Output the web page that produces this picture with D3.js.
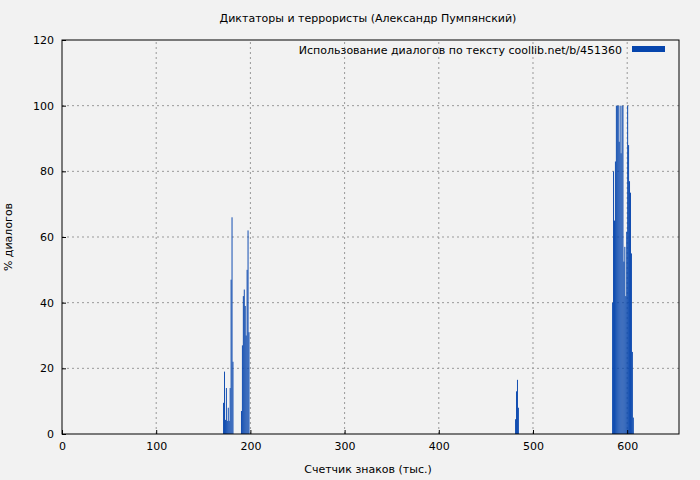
<!DOCTYPE html>
<html><head><meta charset="utf-8">
<script src="https://cdn.jsdelivr.net/npm/d3@7"></script>
<style>body{margin:0;background:#f2f2f2}svg{display:block;font-family:"DejaVu Sans",sans-serif}</style>
</head><body><div id="graph"></div>
<script>
// bar start positions (thousand chars) and dialog share (%)
const xs1 = [171,172,173,174,175,176,177,178,179,180,181];
const vs1 = [9.5,19,4.3,14,4,8,4,14,47,66,22];
const xs2 = [190,191,192,193,194,195,196,197,198];
const vs2 = [7,27,42,44,39,30,50,62,31];
const xs3 = [481,482,483,484];
const vs3 = [4.5,13,16.5,8];
const xs4 = [584,585,586,587,588,589,590,591,592,593,594,595,596,597,598,599,600,601,602,603,604,605];
const vs4 = [40,80,65,83,100,100,100,89,100,85.5,100,100,52.5,57,42,61.6,100,88,77,73.5,55,25];
const xs5 = [606];
const vs5 = [5];
const xTicks = [0,100,200,300,400,500,600];
const yTicks = [0,20,40,60,80,100,120];

const data = [];
[[xs1,vs1],[xs2,vs2],[xs3,vs3],[xs4,vs4],[xs5,vs5]].forEach(([a,b]) => a.forEach((x,i) => data.push({x, v: b[i]})));

const width = 700, height = 480;
const m = {left: 62, right: 21, top: 40, bottom: 46};
const svg = d3.select("#graph").append("svg").attr("width", width).attr("height", height);
svg.append("rect").attr("width", width).attr("height", height).attr("fill", "#f2f2f2");

const x = d3.scaleLinear().domain([0, 655]).range([m.left, width - m.right]);
const y = d3.scaleLinear().domain([0, 120]).range([height - m.bottom, m.top]);

// grid
svg.append("g").selectAll("line").data(xTicks.slice(1)).join("line")
    .attr("x1", d => x(d)).attr("x2", d => x(d)).attr("y1", y(0)).attr("y2", y(120))
    .attr("stroke", "#999").attr("stroke-dasharray", "2,3");
svg.append("g").selectAll("line").data(yTicks.slice(1, -1)).join("line")
    .attr("x1", x(0)).attr("x2", x(655)).attr("y1", d => y(d)).attr("y2", d => y(d))
    .attr("stroke", "#999").attr("stroke-dasharray", "2,3");

svg.append("g").selectAll("rect").data(data).join("rect")
    .attr("x", d => x(d.x)).attr("width", d => x(d.x + 1) - x(d.x))
    .attr("y", d => y(d.v)).attr("height", d => y(0) - y(d.v))
    .attr("fill", "#0645ad");

svg.append("g").attr("transform", `translate(0,${y(0)})`)
    .call(d3.axisBottom(x).tickValues(xTicks).tickSize(-4).tickPadding(8).tickSizeOuter(0))
    .call(g => g.select(".domain").remove());
svg.append("g").attr("transform", `translate(${x(0)},0)`)
    .call(d3.axisLeft(y).tickValues(yTicks).tickSize(-4).tickPadding(8).tickSizeOuter(0))
    .call(g => g.select(".domain").remove());
svg.selectAll(".tick text").attr("font-size", 11).attr("font-family", "DejaVu Sans").attr("fill", "#000");
svg.selectAll(".tick line").attr("stroke", "#000");

svg.append("rect").attr("x", x(0)).attr("y", y(120)).attr("width", x(655) - x(0)).attr("height", y(0) - y(120))
    .attr("fill", "none").attr("stroke", "#000");

svg.append("text").attr("x", 368).attr("y", 22).attr("text-anchor", "middle").attr("font-size", 11)
    .text("Диктаторы и террористы (Александр Пумпянский)");
svg.append("text").attr("x", 368).attr("y", 473).attr("text-anchor", "middle").attr("font-size", 11)
    .text("Счетчик знаков (тыс.)");
svg.append("text").attr("transform", "translate(12,237) rotate(-90)").attr("text-anchor", "middle").attr("font-size", 11)
    .text("% диалогов");

svg.append("text").attr("x", 622).attr("y", 54).attr("text-anchor", "end").attr("font-size", 11)
    .text("Использование диалогов по тексту  coollib.net/b/451360");
svg.append("rect").attr("x", 632).attr("y", 46).attr("width", 33).attr("height", 6).attr("fill", "#0645ad");
</script></body></html>
